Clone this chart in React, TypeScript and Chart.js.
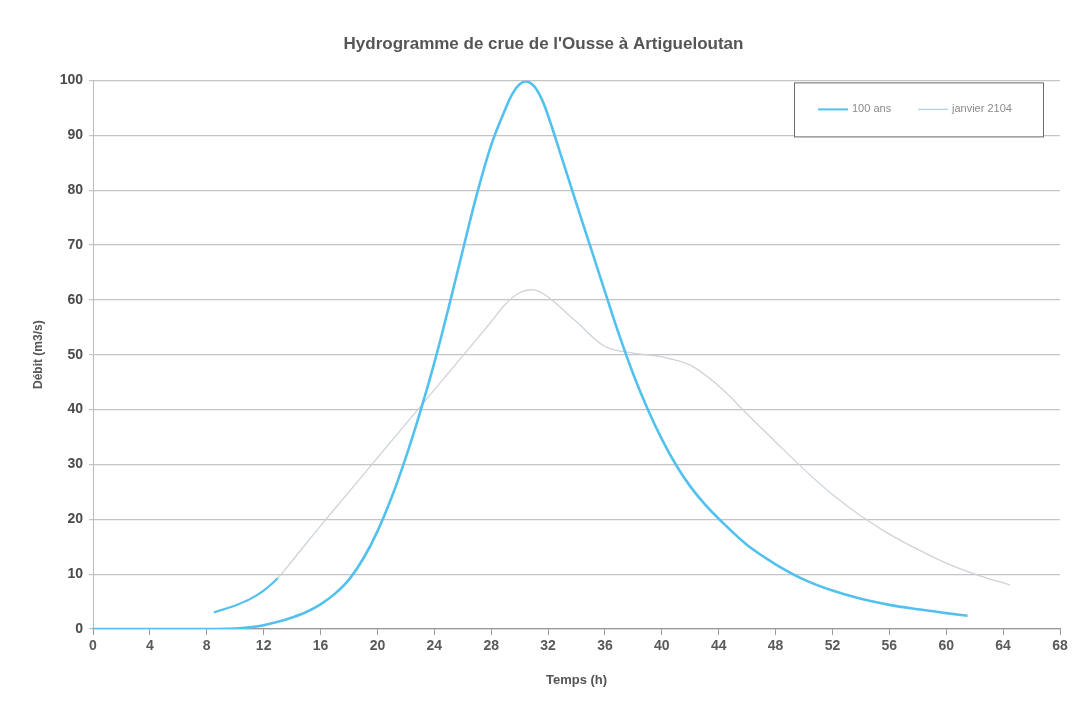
import React, { useEffect, useRef } from "react";
import { Chart, registerables } from "chart.js";

Chart.register(...registerables);

const chartTitle = "Hydrogramme de crue de l'Ousse à Artigueloutan";
const xTitle = "Temps (h)";
const yTitle = "Débit (m3/s)";

const label100 = "100 ans";
const time100 = [0, 4, 8, 10, 11, 12, 13, 14, 15, 16, 17, 18, 19, 20, 21, 22, 23, 24, 25, 26, 27, 28, 29, 29.5, 30, 30.5, 31, 31.5, 32, 33, 34, 35, 36, 37, 38, 39, 40, 41, 42, 43, 44, 46, 48, 50, 52, 54, 56, 58, 60, 61.5];
const flow100 = [0, 0, 0, 0.1, 0.3, 0.7, 1.3, 2.1, 3.1, 4.5, 6.4, 9.0, 12.8, 17.8, 24.0, 31.3, 39.5, 48.5, 58.5, 69, 79.3, 88.2, 94.8, 97.6, 99.3, 99.8, 99.0, 96.9, 93.6, 85.6, 77.5, 69.5, 61.5, 53.6, 46.4, 40.1, 34.6, 29.9, 26, 22.8, 20.1, 15.3, 11.8, 9.0, 7.0, 5.5, 4.4, 3.6, 2.9, 2.4];

const labelJanvier = "janvier 2104";
const timeJanvier = [8.5, 10, 11, 12, 13, 14, 16, 18, 20, 22, 24, 26, 28, 29, 30, 31, 32, 34, 36, 38, 40, 42, 44, 46, 48, 50, 52, 54, 56, 58, 60, 62, 64.5];
const flowJanvier = [3.0, 4.3, 5.4, 7.0, 9.3, 12.4, 18.8, 25.0, 31.2, 37.4, 43.6, 49.8, 56, 59.2, 61.3, 61.8, 60.5, 56, 51.5, 50.3, 49.6, 48.1, 44.3, 39.2, 34.1, 29.1, 24.5, 20.6, 17.3, 14.5, 12.0, 10.0, 8.0];

const xMin = 0;
const xMax = 68;
const xStep = 4;
const yMin = 0;
const yMax = 100;
const yStep = 10;

const FONT = "'Liberation Sans', Arial, sans-serif";
const BLUE = "#52c1ef";
const PALE = "#cdd3d8";

const boxedLegend = {
  id: "boxedLegend",
  afterDraw(chart: any) {
    const { ctx, chartArea } = chart;
    const left = chartArea.right - 266;
    const top = chartArea.top + 2;
    const w = 249;
    const h = 54;
    ctx.save();
    ctx.strokeStyle = "#6a6a6a";
    ctx.lineWidth = 1;
    ctx.fillStyle = "#ffffff";
    ctx.fillRect(left, top, w, h);
    ctx.strokeRect(left + 0.5, top + 0.5, w, h);
    const cy = top + 27;
    let x = left + 24;
    ctx.font = `11px ${FONT}`;
    ctx.textBaseline = "middle";
    chart.data.datasets.forEach((ds: any, i: number) => {
      ctx.strokeStyle = i === 0 ? BLUE : "#b9d6ee";
      ctx.lineWidth = i === 0 ? 2 : 1.5;
      ctx.beginPath();
      ctx.moveTo(x, cy);
      ctx.lineTo(x + 30, cy);
      ctx.stroke();
      ctx.fillStyle = "#8a8a8a";
      ctx.fillText(ds.label, x + 34, cy);
      x += 100;
    });
    ctx.restore();
  },
};

const whiteBg = {
  id: "whiteBg",
  beforeDraw(chart: any) {
    const { ctx, width, height } = chart;
    ctx.save();
    ctx.fillStyle = "#ffffff";
    ctx.fillRect(0, 0, width, height);
    ctx.restore();
  },
};

export default function App() {
  const ref = useRef<HTMLCanvasElement | null>(null);

  useEffect(() => {
    if (!ref.current) return;
    const chart = new Chart(ref.current, {
      type: "line",
      data: {
        datasets: [
          {
            label: label100,
            data: time100.map((t, i) => ({ x: t, y: flow100[i] })),
            borderColor: BLUE,
            borderWidth: 2.6,
            pointRadius: 0,
            tension: 0.35,
            fill: false,
          },
          {
            label: labelJanvier,
            data: timeJanvier.map((t, i) => ({ x: t, y: flowJanvier[i] })),
            borderColor: PALE,
            borderWidth: 1.3,
            pointRadius: 0,
            tension: 0.35,
            fill: false,
            segment: {
              borderColor: (c: any) => (c.p1.parsed.x <= 13 ? BLUE : PALE),
              borderWidth: (c: any) => (c.p1.parsed.x <= 13 ? 2.2 : 1.3),
            },
          },
        ],
      },
      options: {
        responsive: false,
        animation: false,
        layout: { padding: { top: 0, left: 27, right: 23, bottom: 16 } },
        plugins: {
          legend: { display: false },
          tooltip: { enabled: false },
          title: {
            display: true,
            text: chartTitle,
            color: "#555555",
            font: { family: FONT, size: 17, weight: "bold" },
            padding: { top: 34, bottom: 26 },
          },
        },
        scales: {
          x: {
            type: "linear",
            min: xMin,
            max: xMax,
            ticks: {
              stepSize: xStep,
              color: "#5a5a5a",
              font: { family: FONT, size: 14, weight: "bold" },
              padding: 3,
              maxRotation: 0,
            },
            grid: { drawOnChartArea: false, drawTicks: true, tickLength: 6, color: "#999999" },
            border: { display: true, color: "#999999", width: 1.2 },
            title: {
              display: true,
              text: xTitle,
              color: "#555555",
              font: { family: FONT, size: 13, weight: "bold" },
              padding: { top: 4, bottom: 4 },
            },
            afterFit(scale: any) {
              scale.height = 63;
            },
          },
          y: {
            min: yMin,
            max: yMax,
            ticks: {
              stepSize: yStep,
              color: "#4a4a4a",
              font: { family: FONT, size: 14, weight: "bold" },
              padding: 6,
            },
            grid: { color: "#c4c4c4", lineWidth: 1.2, tickLength: 4, drawTicks: true },
            border: { display: true, color: "#bbbbbb" },
            title: {
              display: true,
              text: yTitle,
              color: "#555555",
              font: { family: FONT, size: 12, weight: "bold" },
              padding: { top: 4, bottom: 4 },
            },
            afterFit(scale: any) {
              scale.width = 66;
            },
          },
        },
      },
      plugins: [whiteBg, boxedLegend],
    });
    return () => chart.destroy();
  }, []);

  return (
    <div style={{ position: "fixed", left: 0, top: 0, width: 1083, height: 708, background: "#fff" }}>
      <canvas ref={ref} width={1083} height={708} style={{ width: 1083, height: 708, display: "block" }} />
    </div>
  );
}
